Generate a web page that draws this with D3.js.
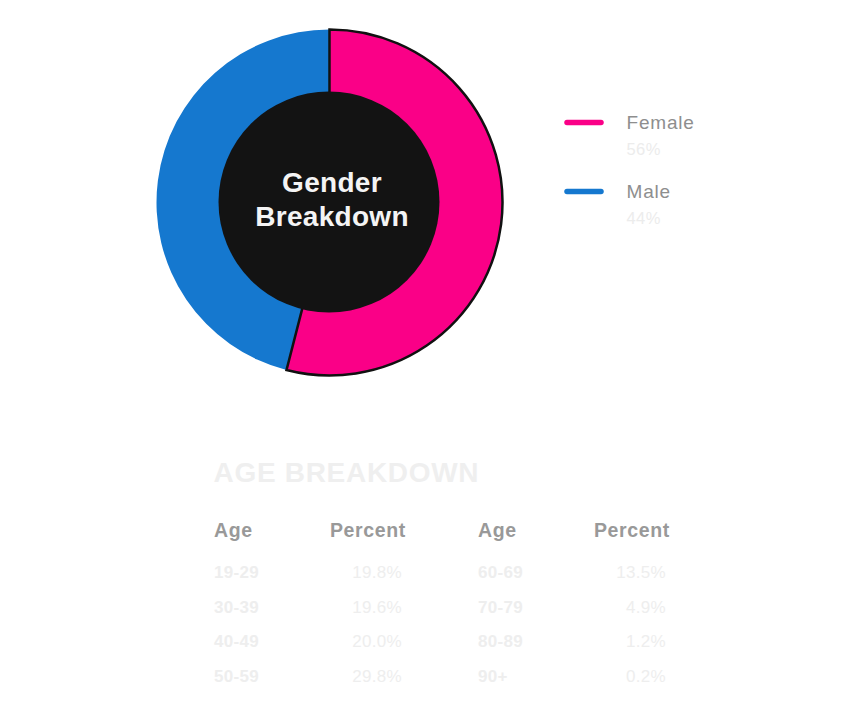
<!DOCTYPE html>
<html>
<head>
<meta charset="utf-8">
<script src="https://cdn.jsdelivr.net/npm/d3@7"></script>
<style>
  html, body { margin: 0; padding: 0; background: #ffffff; }
  svg { display: block; font-family: "Liberation Sans", Arial, Helvetica, sans-serif; }
</style>
</head>
<body>
<svg id="chart" width="852" height="721"></svg>
<script>
// ---- data ----
const genders = ["Female", "Male"];
const genderLabels = ["56%", "44%"];
const genderArcShare = [54, 46];            // share of the ring as drawn in the picture
const genderColors = ["#fa0087", "#1578cf"];

const ageGroupsLeft = ["19-29", "30-39", "40-49", "50-59"];
const agePercentsLeft = ["19.8%", "19.6%", "20.0%", "29.8%"];
const ageGroupsRight = ["60-69", "70-79", "80-89", "90+"];
const agePercentsRight = ["13.5%", "4.9%", "1.2%", "0.2%"];
const tableHeaders = ["Age", "Percent", "Age", "Percent"];

// ---- drawing ----
const svg = d3.select("#chart");
const cx = 329.5, cy = 202.5, rOuter = 173, rInner = 100, rHole = 110.5;

const pie = d3.pie().sort(null).value(d => d.v);
const arcs = pie(genders.map((g, i) => ({ g, v: genderArcShare[i], c: genderColors[i] })));
const arc = d3.arc().innerRadius(rInner).outerRadius(rOuter);

const ring = svg.append("g").attr("transform", `translate(${cx},${cy})`);
// draw male first, female (outlined) on top
ring.selectAll("path")
  .data(arcs.slice().reverse())
  .join("path")
  .attr("d", arc)
  .attr("fill", d => d.data.c)
  .attr("stroke", d => d.data.g === "Female" ? "#111" : "none")
  .attr("stroke-width", 2.5)
  .attr("stroke-linejoin", "miter");

ring.append("circle").attr("cx", -0.5).attr("cy", -0.5).attr("r", rHole).attr("fill", "#131313");

const title = ring.append("text")
  .attr("text-anchor", "middle")
  .attr("fill", "#f4f4f4")
  .attr("font-weight", "bold")
  .attr("font-size", 28)
  .attr("letter-spacing", 0.3);
title.append("tspan").attr("x", 2.5).attr("y", -10.5).text("Gender");
title.append("tspan").attr("x", 2.5).attr("y", 23.5).text("Breakdown");

// legend
const legY = d3.scalePoint().domain(genders).range([122.5, 191.5]);
const leg = svg.append("g").selectAll("g").data(genders).join("g")
  .attr("transform", d => `translate(0,${legY(d)})`);
leg.append("line")
  .attr("x1", 567).attr("x2", 601).attr("y1", 0).attr("y2", 0)
  .attr("stroke", (d, i) => genderColors[i])
  .attr("stroke-width", 5.5)
  .attr("stroke-linecap", "round");
leg.append("text")
  .attr("x", 626.5).attr("y", 6.8)
  .attr("font-size", 19)
  .attr("letter-spacing", 0.8)
  .attr("fill", "#8e8e8e")
  .text(d => d);
leg.append("text")
  .attr("x", 626.5).attr("y", 32.5)
  .attr("font-size", 16.5)
  .attr("letter-spacing", 0.4)
  .attr("fill", "#ececec")
  .text((d, i) => genderLabels[i]);

// age table
svg.append("text")
  .attr("x", 213.5).attr("y", 481.5)
  .attr("font-size", 28)
  .attr("font-weight", "bold")
  .attr("letter-spacing", 0.7)
  .attr("fill", "#efefef")
  .text("AGE BREAKDOWN");

const colX = d3.scaleOrdinal().domain([0, 1, 2, 3]).range([214, 330, 478, 594]);
const valRight = d3.scaleOrdinal().domain([0, 1]).range([402, 666]);

svg.append("g").selectAll("text").data(tableHeaders).join("text")
  .attr("x", (d, i) => colX(i))
  .attr("y", 537)
  .attr("font-size", 19.5)
  .attr("font-weight", "bold")
  .attr("letter-spacing", 0.6)
  .attr("fill", "#999999")
  .text(d => d);

const rowY = d3.scalePoint().domain(d3.range(4)).range([578.3, 681.7]);
const blocks = [
  { ages: ageGroupsLeft, pcts: agePercentsLeft, col: 0 },
  { ages: ageGroupsRight, pcts: agePercentsRight, col: 1 }
];
blocks.forEach(b => {
  const g = svg.append("g");
  g.selectAll("text.age").data(b.ages).join("text")
    .attr("class", "age")
    .attr("x", colX(b.col * 2))
    .attr("y", (d, i) => rowY(i))
    .attr("font-size", 17)
    .attr("font-weight", "bold")
    .attr("letter-spacing", 0.3)
    .attr("fill", "#eeeeee")
    .text(d => d);
  g.selectAll("text.pct").data(b.pcts).join("text")
    .attr("class", "pct")
    .attr("x", valRight(b.col))
    .attr("y", (d, i) => rowY(i))
    .attr("text-anchor", "end")
    .attr("font-size", 17)
    .attr("letter-spacing", 0.3)
    .attr("fill", "#eeeeee")
    .text(d => d);
});
</script>
</body>
</html>
